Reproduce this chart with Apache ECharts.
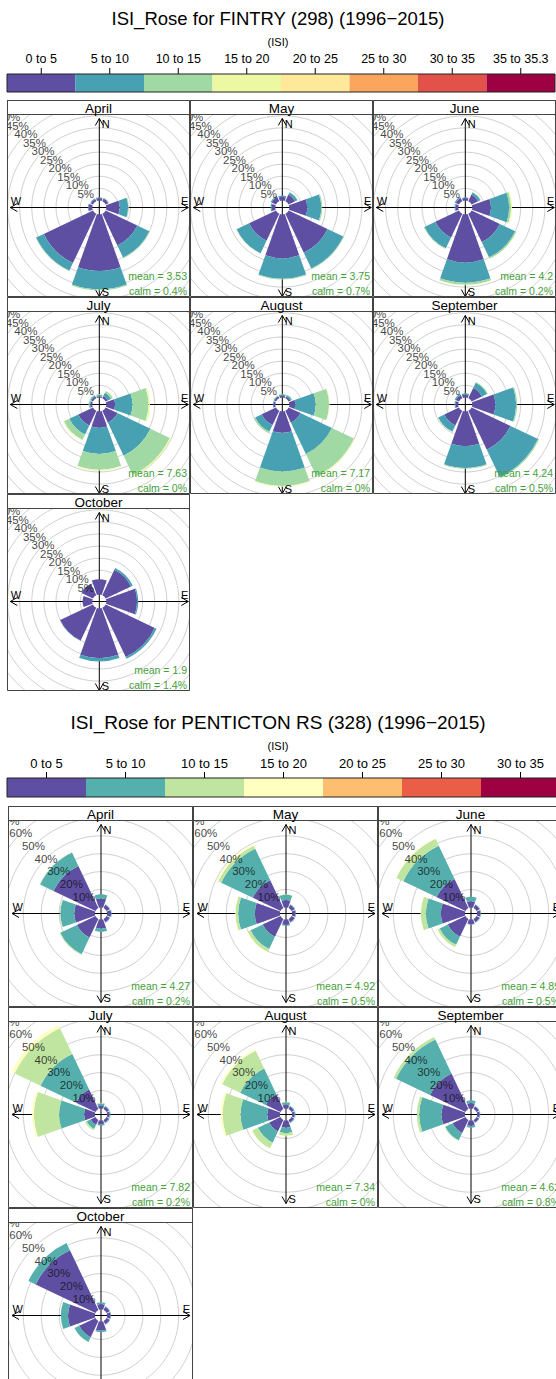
<!DOCTYPE html>
<html><head><meta charset="utf-8">
<script src="https://cdn.jsdelivr.net/npm/echarts@6.0.0/dist/echarts.min.js"></script>
<style>
html,body{margin:0;padding:0;background:#fff}
body{width:556px;height:1379px;position:relative;overflow:hidden}
.c{position:absolute;overflow:hidden}
</style></head><body>
<script>
const FONT = '"Liberation Sans", Arial, Helvetica, sans-serif';
const directions = ['N','NE','E','SE','S','SW','W','NW'];
const monthNames = ['April','May','June','July','August','September','October'];

// ---------- FINTRY ----------
const fintryTitle = 'ISI_Rose for FINTRY (298) (1996\u22122015)';
const fintryBins = ['0 to 5','5 to 10','10 to 15','15 to 20','20 to 25','25 to 30','30 to 35','35 to 35.3'];
const fintryColors = ['#5E4FA2','#48A1B3','#A1D9A4','#EDF8A3','#FEE99A','#FCA55D','#E2524A','#9E0142'];
const fintryGridValues = [5,10,15,20,25,30,35,40,45,50,55,60];
const fintryLabelValues = [5,10,15,20,25,30,35,40,45,50];
const fintryApril = [
 [1.0,1.2,5.5,14.5,23.3,22.5,1.5,1.0],
 [0.3,0.3,3.5,5.5,7.6,3.5,0.3,0.3],
 [0,0,0.3,0.3,0.4,0.2,0,0]
];
const fintryMay = [
 [1.5,3,7.4,17.8,18,12.3,1.5,2],
 [0.5,1,5.8,7.2,8.5,5.7,0.5,0.5],
 [0,0.2,0.4,0.3,0.3,0.2,0,0]
];
const fintryJune = [
 [1,3,7.7,12.9,19.8,10.8,1.2,1.5],
 [0.3,1,7.5,7,8.3,5,0.4,0.5],
 [0,0.2,0.8,0.6,0.9,0.3,0,0],
 [0,0,0.4,0.1,0.2,0,0,0]
];
const fintryJuly = [
 [0.5,1,3.6,5.4,6.7,6.7,0.8,0.8],
 [0.5,1.5,7.2,15.1,10.8,4.1,0.5,0.5],
 [0.3,0.8,6.6,8.8,6.5,2.5,0.3,0.3],
 [0,0.1,0.6,0.6,0.4,0.3,0,0]
];
const fintryAugust = [
 [0.7,0.8,2.5,5.4,8.8,6.5,0.8,0.8],
 [0.5,0.6,8.4,14.4,15.9,3,0.3,0.3],
 [0.3,0.3,5.5,10.1,6,0.7,0,0.2],
 [0,0,0.2,0.3,0.3,0,0,0]
];
const fintrySeptember = [
 [1.2,4.7,9.5,17.8,14.3,6.7,1.2,1.5],
 [0.5,2.4,8.6,12.6,9,2.8,0.4,0.5],
 [0,0.3,0.4,0.5,0.3,0.2,0,0]
];
const fintryOctober = [
 [6.3,11.6,12.7,22.5,20.5,15,4,5.2],
 [0,0.8,0.5,0.8,1.4,0.1,0,0]
];
const fintryMean = ['3.53','3.75','4.2','7.63','7.17','4.24','1.9'];
const fintryCalm = ['0.4','0.7','0.2','0','0','0.5','1.4'];

// ---------- PENTICTON ----------
const pentictonTitle = 'ISI_Rose for PENTICTON RS (328) (1996\u22122015)';
const pentictonBins = ['0 to 5','5 to 10','10 to 15','15 to 20','20 to 25','25 to 30','30 to 35'];
const pentictonColors = ['#5E4FA2','#55AFAD','#BFE5A0','#FFFFBF','#FDBF6F','#EA5D47','#9E0142'];
const pentictonGridValues = [10,20,30,40,50,60,70,80];
const pentictonLabelValues = [10,20,30,40,50,60,70];
const pentictonApril = [
 [5,2,2.3,2,5,11.5,11.5,26],
 [2.3,0.3,0.3,0.3,1.9,10.3,7.8,8.3],
 [0,0,0,0,0,0.4,0.3,0.2]
];
const pentictonMay = [
 [4.1,2,2,2,3,11,14,17.1],
 [3,0.3,0.3,0.3,0.5,7.5,9.3,19.6],
 [0.2,0,0,0,0,1.8,1.5,1.8],
 [0,0,0,0,0,0.5,0.3,0.8]
];
const pentictonJune = [
 [3.5,2,2,2,2.5,11,13.4,18],
 [2.5,0.3,0.3,0.3,0.3,5,8.4,20.5],
 [0,0,0,0,0,1.4,2.8,4.3],
 [0,0,0,0,0,0.2,0.2,0.3]
];
const pentictonJuly = [
 [1.5,1.5,1.5,1.5,2,3,6,12],
 [1.2,0.5,0.5,0.5,0.8,2.5,14,22],
 [0.5,0,0,0,0,1,14,16],
 [0,0,0,0,0,0.2,1,2]
];
const pentictonAugust = [
 [2,1.5,1.5,1.5,4,7,7,9],
 [1.5,0.5,0.5,0.5,3,7,15,16],
 [0.3,0,0,0,1.5,3.5,10,11],
 [0,0,0,0,0.3,0.5,1,1]
];
const pentictonSeptember = [
 [3,1.5,1.5,1.5,3,8,13,22],
 [1.5,0.4,0.4,0.4,1,4.5,12.5,21],
 [0,0,0,0,0,0.5,1.3,1.5]
];
const pentictonOctober = [
 [3,2,2,2,5,10,15,37],
 [1,0.3,0.3,0.3,1,3,4,4.5]
];
const pentictonMean = ['4.27','4.92','4.89','7.82','7.34','4.62','2.56'];
const pentictonCalm = ['0.2','0.5','0.5','0.2','0','0.8','0.9'];

// ---------- layout ----------
const fintryLayout = {
  keyTop:0, keyH:100, yTitle:18, yIsi:42, yLab:59, yBar:74, barH:18, x0:7, segW:68.5,
  titleSize:18.5, labSize:12.5,
  colX:[7,190,373], rowY:[100,297,494], W:183, hdr:14, H:183,
  k:2.42, off:2.9, max:60, dx:0.8, dy:2, L:89, headSize:13.5, statSize:10.5
};
const pentictonLayout = {
  keyTop:700, keyH:106, yTitle:22, yIsi:46, yLab:63, yBar:78, barH:19, x0:7, segW:79,
  titleSize:19, labSize:13,
  colX:[8,193,378], rowY:[806,1007,1208], W:185, hdr:14, H:187,
  k:1.79, off:3.4, max:80, dx:0.5, dy:0, L:89, headSize:13.5, statSize:10.5
};

function makeDiv(left, top, w, h) {
  const d = document.createElement('div');
  d.className = 'c';
  d.style.left = left + 'px'; d.style.top = top + 'px';
  d.style.width = w + 'px'; d.style.height = h + 'px';
  document.body.appendChild(d);
  return d;
}
function txt(x, y, text, size, align, valign, color, z) {
  return {type:'text', x:x, y:y, z:z||10, silent:true,
    style:{text:text, font: size + 'px ' + FONT, fill: color||'#000',
      textAlign:align, textVerticalAlign:valign, align:align, verticalAlign:valign}};
}

function drawKey(title, bins, colors, lay) {
  const el = makeDiv(0, lay.keyTop, 556, lay.keyH);
  const chart = echarts.init(el, null, {renderer:'svg', width:556, height:lay.keyH});
  const g = [];
  g.push(txt(278, lay.yTitle, title, lay.titleSize, 'center', 'middle'));
  g.push(txt(278, lay.yIsi, '(ISI)', 11, 'center', 'middle'));
  bins.forEach((b, i) => {
    const x = lay.x0 + i * lay.segW;
    g.push({type:'rect', z:5, silent:true, shape:{x:x, y:lay.yBar, width:lay.segW, height:lay.barH}, style:{fill:colors[i], stroke:null}});
    const cxl = x + lay.segW / 2;
    g.push(txt(cxl, lay.yLab, b, lay.labSize, 'center', 'middle'));
    g.push({type:'line', z:6, silent:true, shape:{x1:cxl, y1:lay.yBar-6, x2:cxl, y2:lay.yBar}, style:{stroke:'#000', lineWidth:1}});
  });
  g.push({type:'rect', z:7, silent:true, shape:{x:lay.x0, y:lay.yBar, width:lay.segW*bins.length, height:lay.barH}, style:{fill:'none', stroke:'#222', lineWidth:1}});
  chart.setOption({animation:false, graphic:{elements:g}});
}

function drawPanel(lay, bins, colors, grid, labels, idx, data, mean, calm) {
  const r = Math.floor(idx / 3), c = idx % 3;
  const W = lay.W, Ht = lay.hdr + lay.H;
  const el = makeDiv(lay.colX[c], lay.rowY[r], W, Ht);
  const chart = echarts.init(el, null, {renderer:'svg', width:W, height:Ht});
  const cx = W / 2 + lay.dx, cy = lay.hdr + lay.H / 2 + lay.dy;
  const R = (lay.max + lay.off) * lay.k;
  const L = lay.L;
  const series = [];
  series.push({
    type:'custom', coordinateSystem:'polar', z:0, silent:true,
    data: grid.map(v => [v, 0]),
    renderItem: function (params, api) {
      const p = api.coord([api.value(0), api.value(1)]);
      const cs = params.coordSys;
      const rr = Math.sqrt((p[0]-cs.cx)*(p[0]-cs.cx) + (p[1]-cs.cy)*(p[1]-cs.cy));
      return {type:'circle', shape:{cx:cs.cx, cy:cs.cy, r:rr}, style:{fill:'none', stroke:'#d0d0d0', lineWidth:1}};
    }
  });
  data.forEach((vals, i) => {
    series.push({type:'bar', coordinateSystem:'polar', stack:'rose', name:bins[i], data:vals,
      barCategoryGap:'13%', itemStyle:{color:colors[i]}, z:2, silent:true});
  });
  series.push({type:'scatter', coordinateSystem:'polar', z:5, silent:true, symbolSize:1,
    itemStyle:{color:'rgba(0,0,0,0)'},
    data: labels.map(v => [v, 'NW']),
    label:{show:true, position:'inside', formatter: p => p.value[0] + '%', color:'#111', fontSize:11.5, fontFamily:FONT,
      textBorderWidth:0, textBorderColor:'transparent', textShadowBlur:0}});

  const g = [];
  const ls = {stroke:'#000', lineWidth:1, fill:'none'};
  g.push({type:'line', z:1, silent:true, shape:{x1:cx, y1:cy-L, x2:cx, y2:cy+L}, style:ls});
  g.push({type:'line', z:1, silent:true, shape:{x1:cx-L, y1:cy, x2:cx+L, y2:cy}, style:ls});
  const a = 7, hw = 4;
  g.push({type:'polyline', z:1, silent:true, shape:{points:[[cx-hw, cy-L+a],[cx, cy-L],[cx+hw, cy-L+a]]}, style:ls});
  g.push({type:'polyline', z:1, silent:true, shape:{points:[[cx-hw, cy+L-a],[cx, cy+L],[cx+hw, cy+L-a]]}, style:ls});
  g.push({type:'polyline', z:1, silent:true, shape:{points:[[cx-L+a, cy-hw],[cx-L, cy],[cx-L+a, cy+hw]]}, style:ls});
  g.push({type:'polyline', z:1, silent:true, shape:{points:[[cx+L-a, cy-hw],[cx+L, cy],[cx+L-a, cy+hw]]}, style:ls});
  g.push(txt(cx+2.5, cy-L+5.5, 'N', 11, 'left', 'middle', '#000', 9));
  g.push(txt(cx+2.5, cy+L-5, 'S', 11, 'left', 'middle', '#000', 9));
  g.push(txt(cx-L+0.5, cy-7, 'W', 11, 'left', 'middle', '#000', 9));
  g.push(txt(cx+L, cy-7, 'E', 11, 'right', 'middle', '#000', 9));
  g.push(txt(W-3, lay.hdr+lay.H-21, 'mean = ' + mean, lay.statSize, 'right', 'middle', '#45a03a', 9));
  g.push(txt(W-3, lay.hdr+lay.H-6, 'calm = ' + calm + '%', lay.statSize, 'right', 'middle', '#45a03a', 9));
  g.push({type:'rect', z:10, silent:true, shape:{x:0.5, y:0.5, width:W-1, height:lay.hdr}, style:{fill:'#fff', stroke:'#444', lineWidth:1}});
  g.push(txt(W/2, lay.hdr/2+1, monthNames[idx], lay.headSize, 'center', 'middle', '#000', 11));
  g.push({type:'rect', z:12, silent:true, shape:{x:0.5, y:0.5, width:W-1, height:Ht-1}, style:{fill:'none', stroke:'#444', lineWidth:1}});

  chart.setOption({
    animation:false,
    polar:{center:[cx, cy], radius:R},
    angleAxis:{type:'category', data:directions, startAngle:112.5, clockwise:true, boundaryGap:true,
      axisLine:{show:false}, axisTick:{show:false}, axisLabel:{show:false}, splitLine:{show:false}, splitArea:{show:false}},
    radiusAxis:{type:'value', min:-lay.off, max:lay.max,
      axisLine:{show:false}, axisTick:{show:false}, axisLabel:{show:false}, splitLine:{show:false}, splitArea:{show:false}},
    series: series,
    graphic:{elements:g}
  });
}

drawKey(fintryTitle, fintryBins, fintryColors, fintryLayout);
[fintryApril, fintryMay, fintryJune, fintryJuly, fintryAugust, fintrySeptember, fintryOctober].forEach((d, i) =>
  drawPanel(fintryLayout, fintryBins, fintryColors, fintryGridValues, fintryLabelValues, i, d, fintryMean[i], fintryCalm[i]));

drawKey(pentictonTitle, pentictonBins, pentictonColors, pentictonLayout);
[pentictonApril, pentictonMay, pentictonJune, pentictonJuly, pentictonAugust, pentictonSeptember, pentictonOctober].forEach((d, i) =>
  drawPanel(pentictonLayout, pentictonBins, pentictonColors, pentictonGridValues, pentictonLabelValues, i, d, pentictonMean[i], pentictonCalm[i]));
</script>
</body></html>
